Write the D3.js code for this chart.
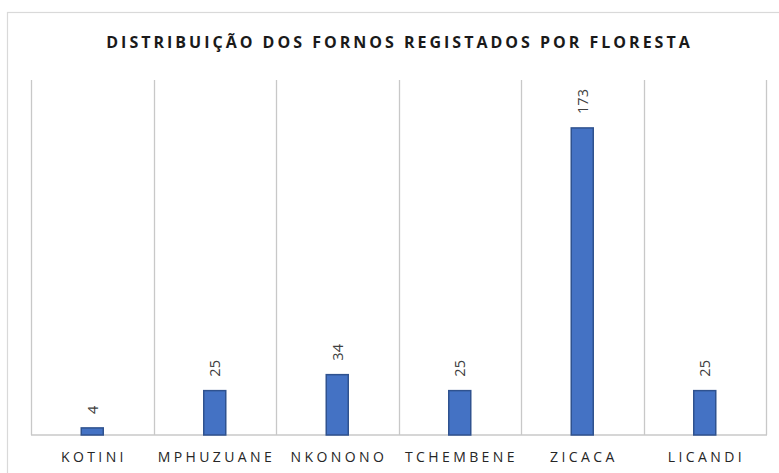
<!DOCTYPE html>
<html>
<head>
<meta charset="utf-8">
<script src="https://cdn.jsdelivr.net/npm/d3@7"></script>
<style>
  body { margin: 0; background: #fff; }
  svg { display: block; }
  text { font-family: "Open Sans", "Liberation Sans", sans-serif; }
</style>
</head>
<body>
<div id="chart"></div>
<script>
// data
var florestas = ["KOTINI", "MPHUZUANE", "NKONONO", "TCHEMBENE", "ZICACA", "LICANDI"];
var fornos = [4, 25, 34, 25, 173, 25];
var titulo = "DISTRIBUIÇÃO DOS FORNOS REGISTADOS POR FLORESTA";

var w = 779, h = 473;
var margin = {top: 80, right: 13, bottom: 38, left: 31};

var svg = d3.select("#chart").append("svg")
	.attr("width", w)
	.attr("height", h);

// chart area border (right/bottom sides fall outside the picture)
svg.append("rect")
	.attr("x", 7.5)
	.attr("y", 12.5)
	.attr("width", w + 20)
	.attr("height", h + 20)
	.attr("fill", "none")
	.attr("stroke", "#d9d9d9")
	.attr("stroke-width", 1.2);

var x = d3.scaleBand()
	.domain(florestas)
	.range([margin.left, w - margin.right])
	.paddingInner(0)
	.paddingOuter(0);

var y = d3.scaleLinear()
	.domain([0, 200])
	.range([h - margin.bottom, margin.top]);

// vertical grid lines at category boundaries
var bounds = florestas.map(function (d) { return x(d); });
bounds.push(x.range()[1]);

svg.append("g")
	.selectAll("line")
	.data(bounds)
	.enter()
	.append("line")
	.attr("x1", function (d) { return Math.round(d) + 0.5; })
	.attr("x2", function (d) { return Math.round(d) + 0.5; })
	.attr("y1", y.range()[1])
	.attr("y2", y(0))
	.attr("stroke", "#c8c8c8")
	.attr("stroke-width", 1.3);

// baseline
svg.append("line")
	.attr("x1", x.range()[0])
	.attr("x2", x.range()[1] + 1)
	.attr("y1", y(0))
	.attr("y2", y(0))
	.attr("stroke", "#c8c8c8")
	.attr("stroke-width", 1.5);

var barW = 22;

svg.append("g")
	.selectAll("rect")
	.data(fornos)
	.enter()
	.append("rect")
	.attr("x", function (d, i) { return x(florestas[i]) + x.bandwidth() / 2 - barW / 2; })
	.attr("y", function (d) { return y(d); })
	.attr("width", barW)
	.attr("height", function (d) { return y(0) - y(d); })
	.attr("fill", "#4472c4")
	.attr("stroke", "#2f528f")
	.attr("stroke-width", 1.5);

// value labels, rotated
svg.append("g")
	.selectAll("text")
	.data(fornos)
	.enter()
	.append("text")
	.attr("transform", function (d, i) {
		var cx = x(florestas[i]) + x.bandwidth() / 2;
		return "translate(" + (cx + 5.5) + "," + (y(d) - 14) + ") rotate(-90)";
	})
	.attr("text-anchor", "start")
	.attr("font-size", 14.5)
	.attr("fill", "#404040")
	.text(function (d) { return d; });

// category labels
svg.append("g")
	.selectAll("text")
	.data(florestas)
	.enter()
	.append("text")
	.attr("x", function (d) { return x(d) + x.bandwidth() / 2 + 1.7; })
	.attr("y", 462)
	.attr("text-anchor", "middle")
	.attr("font-size", 14)
	.attr("letter-spacing", "3.4px")
	.attr("fill", "#262626")
	.text(function (d) { return d; });

// title
svg.append("text")
	.attr("x", 398 + 1.5)
	.attr("y", 48)
	.attr("text-anchor", "middle")
	.attr("font-size", 16)
	.attr("font-weight", "bold")
	.attr("letter-spacing", "3px")
	.attr("fill", "#1a1a1a")
	.text(titulo);
</script>
</body>
</html>
